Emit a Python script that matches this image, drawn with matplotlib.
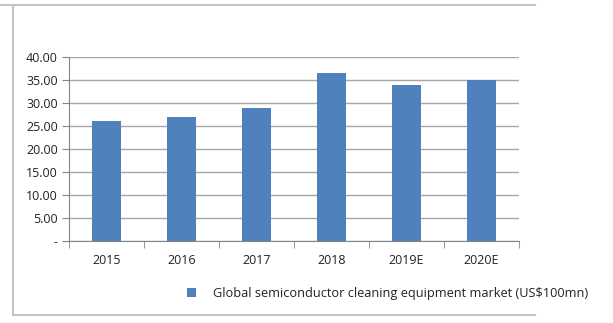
import matplotlib
matplotlib.use("Agg")
import matplotlib.pyplot as plt
from matplotlib.lines import Line2D

plt.rcParams['font.family'] = ['Open Sans', 'DejaVu Sans']

years = ["2015", "2016", "2017", "2018", "2019E", "2020E"]
market = [26.0, 27.0, 29.0, 36.5, 34.0, 35.0]
yticks = [0, 5, 10, 15, 20, 25, 30, 35, 40]
series_name = "Global semiconductor cleaning equipment market (US$100mn)"

W, H = 613, 323
fig = plt.figure(figsize=(W / 100, H / 100), dpi=100)
ax = fig.add_axes([69 / W, 1 - 241 / H, 450 / W, 184 / H])

x = range(len(years))
bars = ax.bar(x, market, width=0.39, color="#4f81bd", zorder=3, label=series_name)

ax.set_xlim(-0.5, len(years) - 0.5)
ax.set_ylim(0, 40)
ax.set_yticks(yticks)
ax.set_yticklabels(["-" if v == 0 else "%.2f" % v for v in yticks])
ax.yaxis.grid(True, color="#a6a6a6", linewidth=1, zorder=0)

ax.set_xticks(list(x))
ax.set_xticklabels(years)
ax.set_xticks([i - 0.5 for i in range(len(years) + 1)], minor=True)
ax.tick_params(axis="x", which="major", length=0, pad=9, labelsize=9, colors="#222222")
ax.tick_params(axis="x", which="minor", length=5, color="#868686")
ax.tick_params(axis="y", length=5, color="#868686", labelsize=9, labelcolor="#222222", pad=3)

for s in ["top", "right"]:
    ax.spines[s].set_visible(False)
for s in ["left", "bottom"]:
    ax.spines[s].set_color("#868686")

leg = fig.legend(handles=[bars], loc="center left", bbox_to_anchor=(176 / W, 1 - 293 / H),
                 frameon=False, fontsize=9.2, handlelength=0.7, handleheight=0.7,
                 handletextpad=1.3)
for t in leg.get_texts():
    t.set_color("#222222")

# outer chart frame (left, top, bottom only; cut off at the right)
frame_col = "#c4c4c4"
fig.add_artist(Line2D([0 / W, 535 / W], [1 - 5 / H, 1 - 5 / H], color=frame_col, lw=1.5))
fig.add_artist(Line2D([12.5 / W, 12.5 / W], [1 - 5 / H, 1 - 315 / H], color=frame_col, lw=1.5))
fig.add_artist(Line2D([12.5 / W, 535 / W], [1 - 315 / H, 1 - 315 / H], color=frame_col, lw=1.5))

fig.savefig("out.png", dpi=100)
